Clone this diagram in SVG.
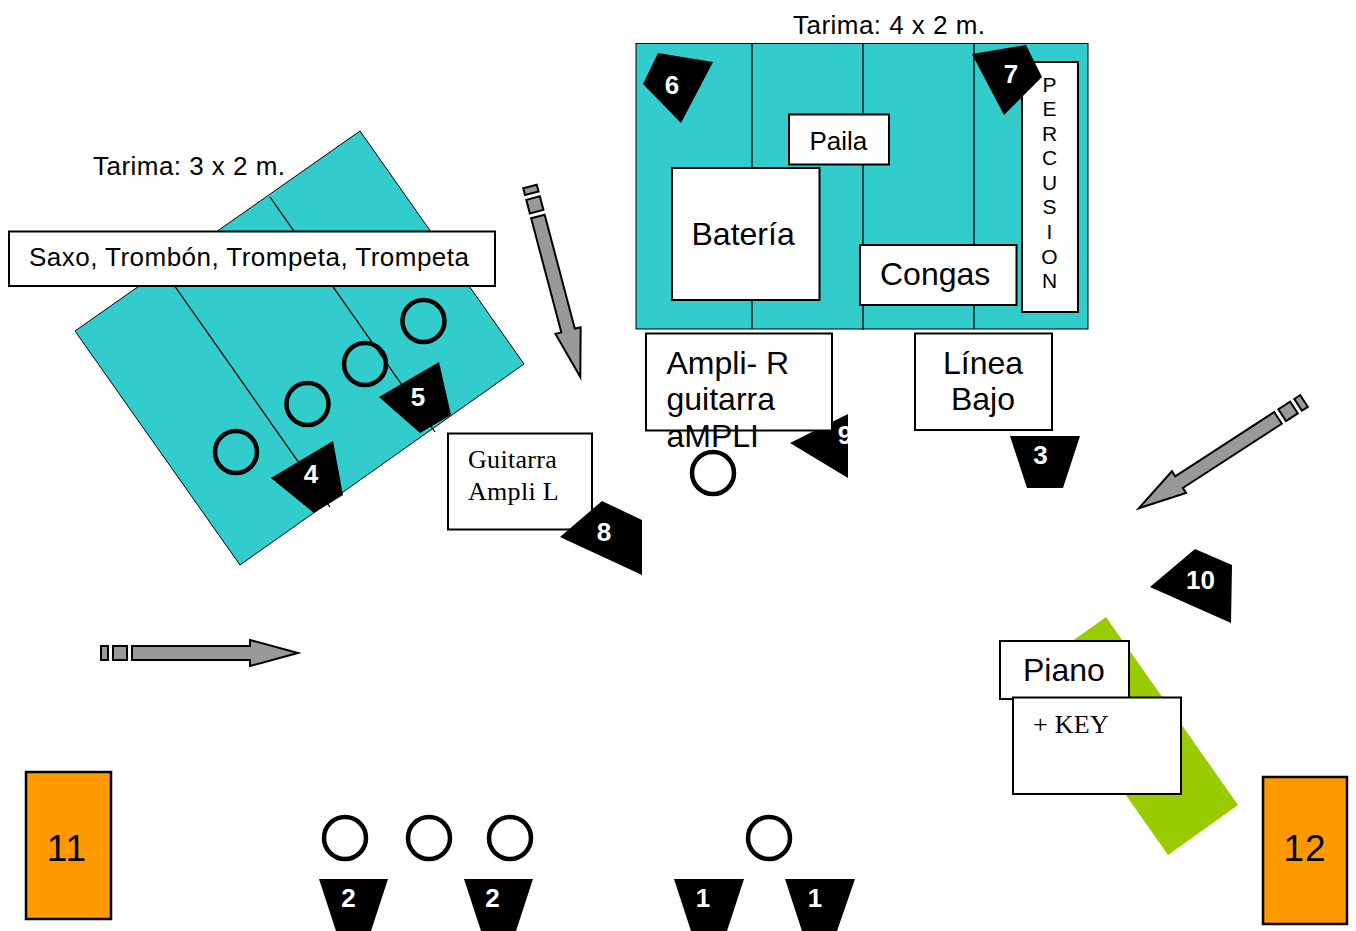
<svg xmlns="http://www.w3.org/2000/svg" width="1356" height="931" viewBox="0 0 1356 931">
<style>
text{font-family:"Liberation Sans",Arial,sans-serif;fill:#000}
.box{fill:#fff;stroke:#000;stroke-width:2}
.stage{fill:#33cccc;stroke:#000;stroke-width:1}
.div{fill:none;stroke:#000;stroke-width:1.3}
.blk{fill:#000;stroke:none}
.num{font-weight:bold;font-size:26px;fill:#fff;text-anchor:middle}
.ring{fill:none;stroke:#000;stroke-width:4.5}
.t26{font-size:26px}
.wide{letter-spacing:.47px}
.t32{font-size:32px}
.ser{font-family:"Liberation Serif","Times New Roman",serif;font-size:26px;letter-spacing:.3px}
.org{fill:#ff9900;stroke:#000;stroke-width:2.5}
.big{font-size:37px;text-anchor:middle;letter-spacing:1px}
.ar{fill:#999;stroke:#000;stroke-width:2}
.per{font-size:21px;text-anchor:middle}
</style>
<defs>
<g id="blockArrow">
<rect class="ar" x="0" y="-7" width="7" height="14"/>
<rect class="ar" x="12" y="-7" width="14" height="14"/>
<polygon class="ar" points="31,-7 149,-7 149,-13 197,0 149,13 149,7 31,7"/>
</g>
<clipPath id="clip9"><rect x="780" y="400" width="68" height="90"/></clipPath>
</defs>
<rect width="1356" height="931" fill="#fff"/>

<g id="stage-3x2">
<polygon class="stage" points="360,131 524,364 240,565 75,331"/>
<line class="div" x1="162" y1="268" x2="330" y2="507"/>
<line class="div" x1="270" y1="197" x2="435" y2="432"/>
<text class="t26 wide" x="93" y="175">Tarima: 3 x 2 m.</text>
</g>
<g id="stage-4x2">
<rect class="stage" x="636" y="43.500" width="452" height="285.500"/>
<line class="div" x1="752" y1="43" x2="752" y2="329"/>
<line class="div" x1="863" y1="43" x2="863" y2="330"/>
<line class="div" x1="974" y1="43" x2="974" y2="329"/>
<text class="t26 wide" x="793" y="34">Tarima: 4 x 2 m.</text>
</g>
<g id="marker-9" clip-path="url(#clip9)">
<polygon class="blk" points="790,443 848,414 848,478"/>
</g>
<g id="saxos"><rect class="box" x="9" y="231.500" width="486" height="54.500"/><text class="t26 wide" x="29" y="266">Saxo, Trombón, Trompeta, Trompeta</text></g>
<g id="paila"><rect class="box" x="789" y="114.500" width="100" height="50"/><text class="t26" x="809.500" y="150">Paila</text></g>
<g id="bateria"><rect class="box" x="672" y="168" width="147.500" height="132"/><text class="t32" x="691.500" y="245">Batería</text></g>
<g id="congas"><rect class="box" x="860" y="245" width="156.500" height="60"/><text class="t32" x="880" y="285">Congas</text></g>
<g id="percusion"><rect class="box" x="1022" y="62" width="56" height="250"/>
<text class="per"><tspan x="1049.500" y="92">P</tspan><tspan x="1049.500" y="116">E</tspan><tspan x="1049.500" y="141">R</tspan><tspan x="1049.500" y="165">C</tspan><tspan x="1049.500" y="190">U</tspan><tspan x="1049.500" y="214">S</tspan><tspan x="1049.500" y="239">I</tspan><tspan x="1049.500" y="264">O</tspan><tspan x="1049.500" y="288">N</tspan></text></g>
<g id="ampli-r"><rect class="box" x="646" y="333.500" width="186" height="97"/>
<text class="t32"><tspan x="666.500" y="374">Ampli- R</tspan><tspan x="666.500" y="410">guitarra</tspan><tspan x="666.500" y="447">aMPLI</tspan></text></g>
<g id="linea-bajo"><rect class="box" x="915" y="333.500" width="137" height="96.500"/>
<text class="t32" text-anchor="middle"><tspan x="983" y="374">Línea</tspan><tspan x="983" y="410">Bajo</tspan></text></g>
<g id="guitarra"><rect class="box" x="448" y="433.500" width="144" height="96"/>
<text class="ser"><tspan x="468" y="468">Guitarra</tspan><tspan x="468" y="500">Ampli L</tspan></text></g>
<g id="teclado">
<polygon fill="#99cc00" points="1106,617 1238,805 1168,855 1036,667"/>
<rect class="box" x="1000" y="641" width="129" height="58"/><text class="t32" x="1023" y="681">Piano</text>
<rect class="box" x="1013" y="697.500" width="168" height="96.500"/><text class="ser" x="1033" y="733">+ KEY</text>
</g>
<g id="monitor-11"><rect class="org" x="26" y="772" width="85" height="147"/><text class="big" x="67" y="861">11</text></g>
<g id="monitor-12"><rect class="org" x="1263" y="777" width="84" height="147"/><text class="big" x="1305" y="861">12</text></g>

<g id="m1a"><polygon class="blk" points="674,879 744,879 727,931 691,931"/><text class="num" x="703" y="907">1</text></g>
<g id="m1b"><polygon class="blk" points="785,879 855,879 837,931 802,931"/><text class="num" x="815" y="907">1</text></g>
<g id="m2a"><polygon class="blk" points="319,879 388,879 371,931 336,931"/><text class="num" x="348.500" y="907">2</text></g>
<g id="m2b"><polygon class="blk" points="464,879 533,879 516,931 481,931"/><text class="num" x="492.500" y="907">2</text></g>
<g id="m3"><polygon class="blk" points="1010,436 1080,436 1063,488 1027,488"/><text class="num" x="1040.500" y="464">3</text></g>
<g id="m4"><polygon class="blk" points="333,441 343,495 314,513 271,478"/><text class="num" x="311" y="483">4</text></g>
<g id="m5"><polygon class="blk" points="439,362 451,415 420,433 379,397"/><text class="num" x="418" y="406">5</text></g>
<g id="m6"><polygon class="blk" points="658,53 713,62 681,123 643,84"/><text class="num" x="672" y="94">6</text></g>
<g id="m7"><polygon class="blk" points="972,54 1026,45 1042,77 1004,115"/><text class="num" x="1011" y="83">7</text></g>
<g id="m8"><polygon class="blk" points="602,501 642,520 642,575 560,537"/><text class="num" x="604" y="541">8</text></g>
<g id="m9-label" clip-path="url(#clip9)"><text class="num" x="845" y="444">9</text></g>
<g id="m10"><polygon class="blk" points="1195,549 1232,565 1231,623 1150,587"/><text class="num" x="1200.500" y="589">10</text></g>

<g id="players">
<circle class="ring" cx="236" cy="452" r="21"/>
<circle class="ring" cx="307.500" cy="404" r="21"/>
<circle class="ring" cx="365" cy="364" r="21"/>
<circle class="ring" cx="423.500" cy="321" r="21"/>
<circle class="ring" cx="713" cy="473" r="21"/>
<circle class="ring" cx="345" cy="838" r="21"/>
<circle class="ring" cx="429" cy="838" r="21"/>
<circle class="ring" cx="510" cy="838" r="21"/>
<circle class="ring" cx="769" cy="838" r="21"/>
</g>
<g id="connectors">
<use href="#blockArrow" transform="translate(101,653)"/>
<use href="#blockArrow" transform="translate(530,186.500) rotate(75.2)"/>
<use href="#blockArrow" transform="translate(1304,401) rotate(147)"/>
</g>
</svg>
